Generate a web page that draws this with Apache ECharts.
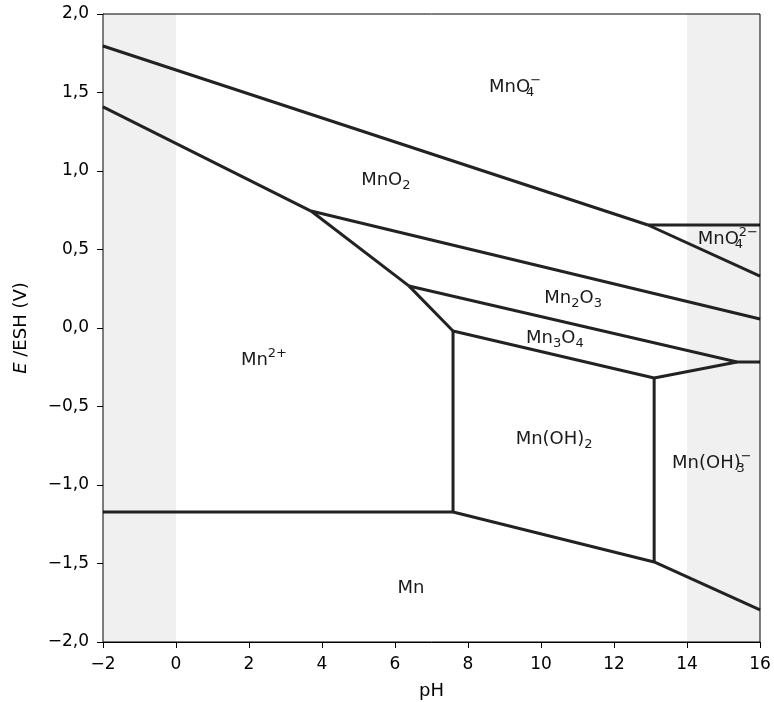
<!DOCTYPE html>
<html><head><meta charset="utf-8">
<script src="https://cdn.jsdelivr.net/npm/echarts@6/dist/echarts.min.js"></script>
<style>html,body{margin:0;padding:0;background:#fff}#c{width:774px;height:702px}</style>
</head><body><div id="c"></div><script>
// x / y axis ticks
const xTicks = [-2, 0, 2, 4, 6, 8, 10, 12, 14, 16];
const yTicks = [-2, -1.5, -1, -0.5, 0, 0.5, 1, 1.5, 2];
// shaded pH bands (outside 0..14)
const bands = [[-2, 0], [14, 16]];
// phase boundaries, as (pH, E) vertices
const bMnO4_MnO2   = [[-2, 1.796], [12.93, 0.656]];
const bMnO4_MnO4_2 = [[12.93, 0.656], [16, 0.656]];
const bMnO4_2_MnO2 = [[12.93, 0.656], [16, 0.331]];
const bMnO2_Mn2    = [[-2, 1.408], [3.70, 0.745]];
const bMnO2_Mn2O3  = [[3.70, 0.745], [16, 0.057]];
const bMn2O3_Mn2   = [[3.70, 0.745], [6.38, 0.268]];
const bMn2O3_Mn3O4 = [[6.38, 0.268], [15.37, -0.217], [16, -0.217]];
const bMn3O4_Mn2   = [[6.38, 0.268], [7.59, -0.019]];
const bMn3O4_MnOH2 = [[7.59, -0.019], [13.10, -0.318]];
const bMn3O4_MnOH3 = [[13.10, -0.318], [15.37, -0.217]];
const bMn2_MnOH2   = [[7.59, -0.019], [7.59, -1.172]];
const bMnOH2_MnOH3 = [[13.10, -0.318], [13.10, -1.49]];
const bMn2_Mn      = [[-2, -1.172], [7.59, -1.172]];
const bMnOH2_Mn    = [[7.59, -1.172], [13.10, -1.49]];
const bMnOH3_Mn    = [[13.10, -1.49], [16, -1.796]];
const boundaries = [bMnO4_MnO2, bMnO4_MnO4_2, bMnO4_2_MnO2, bMnO2_Mn2, bMnO2_Mn2O3,
  bMn2O3_Mn2, bMn2O3_Mn3O4, bMn3O4_Mn2, bMn3O4_MnOH2, bMn3O4_MnOH3, bMn2_MnOH2,
  bMnOH2_MnOH3, bMn2_Mn, bMnOH2_Mn, bMnOH3_Mn];
// species labels
const labelTexts = ['MnO{s0|4}{p|−}', 'MnO{s0|4}{p|2−}', 'MnO{s|2}', 'Mn{s|2}O{s|3}', 'Mn{s|3}O{s|4}',
  'Mn{p|2+}', 'Mn(OH){s|2}', 'Mn(OH){s0|3}{p|−}', 'Mn'];
const labelX = [9.29, 15.12, 5.75, 10.88, 10.38, 2.41, 10.36, 14.68, 6.44];
const labelY = [1.535, 0.567, 0.943, 0.191, -0.064, -0.204, -0.707, -0.860, -1.656];

const fmt = v => (Math.abs(v) < 1e-9 ? 0 : v).toString().replace('-', '−');
const fmtY = v => (Math.abs(v) < 1e-9 ? 0 : v).toFixed(1).replace('.', ',').replace('-', '−');

const font = 'DejaVu Sans';
const txt = '#1a1a1a';
const series = [];
series.push({
  type: 'line', data: [], silent: true, z: 1,
  markArea: {
    silent: true,
    itemStyle: {color: '#f0f0f0'},
    data: bands.map(b => [{xAxis: b[0]}, {xAxis: b[1]}])
  }
});
boundaries.forEach(b => series.push({
  type: 'line', data: b, symbol: 'none', silent: true, z: 3,
  lineStyle: {color: '#222', width: 3, cap: 'butt', join: 'miter'}
}));
series.push({
  type: 'scatter', symbolSize: 0, silent: true, z: 5,
  itemStyle: {opacity: 1},
  data: labelX.map((x, i) => [x, labelY[i], i]),
  label: {
    show: true, position: 'inside', opacity: 1,
    formatter: p => labelTexts[p.data[2]],
    color: txt, fontFamily: font, fontSize: 18,
    rich: {
      s: {fontFamily: font, fontSize: 13, color: txt, padding: [12, 0, 0, 0]},
      s0: {fontFamily: font, fontSize: 13, color: txt, padding: [12, 0, 0, 0], width: 0},
      p: {fontFamily: font, fontSize: 13, color: txt, padding: [0, 0, 12, 0]}
    }
  }
});

const chart = echarts.init(document.getElementById('c'));
chart.setOption({
  animation: false,
  backgroundColor: '#fff',
  grid: {left: 103, right: 14, top: 14, bottom: 60, containLabel: false, outerBoundsMode: 'none',
    show: true, borderColor: '#000', borderWidth: 1, backgroundColor: 'transparent', z: 10},
  xAxis: {
    type: 'value', min: -2, max: 16, interval: 2,
    name: 'pH', nameLocation: 'middle', nameGap: 40,
    nameTextStyle: {fontFamily: font, fontSize: 18, color: '#000'},
    axisLine: {show: true, onZero: false, lineStyle: {color: '#000', width: 1}},
    axisTick: {show: true, length: 6, lineStyle: {color: '#000'}},
    axisLabel: {fontFamily: font, fontSize: 17, color: '#000', formatter: fmt, margin: 14},
    splitLine: {show: false}
  },
  yAxis: {
    type: 'value', min: -2, max: 2, interval: 0.5,
    name: '{i|E} /ESH (V)', nameLocation: 'middle', nameGap: 73, nameRotate: 90,
    nameTextStyle: {fontFamily: font, fontSize: 18, color: '#000',
      rich: {i: {fontFamily: font, fontSize: 18, fontStyle: 'italic', color: '#000'}}},
    axisLine: {show: true, onZero: false, lineStyle: {color: '#000', width: 1}},
    axisTick: {show: true, length: 6, lineStyle: {color: '#000'}},
    axisLabel: {fontFamily: font, fontSize: 17, color: '#000', formatter: fmtY, margin: 14},
    splitLine: {show: false}
  },
  series: series
});
</script></body></html>
